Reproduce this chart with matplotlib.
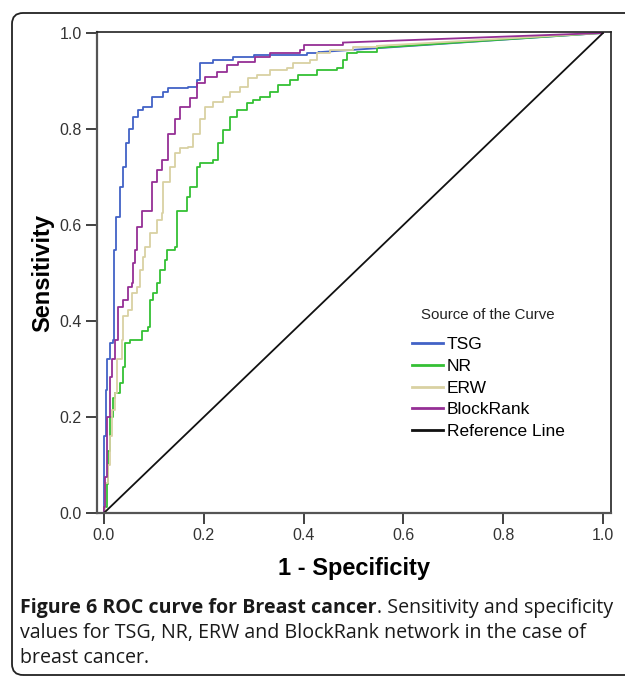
import matplotlib.pyplot as plt
from matplotlib.patches import FancyBboxPatch
from matplotlib.transforms import IdentityTransform

# ROC curve vertices (1 - specificity, sensitivity)
tsg_x = [0, 0.0, 0.004, 0.006, 0.012, 0.018, 0.02, 0.025, 0.032, 0.038, 0.044, 0.05, 0.058,
         0.068, 0.078, 0.096, 0.118, 0.128, 0.168, 0.186, 0.192, 0.218, 0.258, 0.30, 0.406,
         0.43, 1.0]
tsg_y = [0, 0.16, 0.256, 0.32, 0.354, 0.36, 0.548, 0.617, 0.68, 0.72, 0.77, 0.80, 0.825,
         0.84, 0.846, 0.867, 0.877, 0.885, 0.888, 0.902, 0.937, 0.944, 0.95, 0.954, 0.958,
         0.96, 1.0]

nr_x = [0, 0.0, 0.006, 0.008, 0.012, 0.018, 0.022, 0.032, 0.038, 0.042, 0.052, 0.076, 0.088,
        0.092, 0.098, 0.106, 0.112, 0.122, 0.126, 0.142, 0.146, 0.166, 0.172, 0.186, 0.192,
        0.218, 0.228, 0.238, 0.252, 0.266, 0.286, 0.298, 0.313, 0.333, 0.349, 0.373, 0.389,
        0.427, 0.467, 0.479, 0.487, 0.507, 0.547, 1.0]
nr_y = [0, 0.012, 0.06, 0.13, 0.2, 0.24, 0.25, 0.27, 0.305, 0.354, 0.36, 0.38, 0.388,
        0.444, 0.458, 0.48, 0.506, 0.527, 0.548, 0.554, 0.63, 0.658, 0.679, 0.72, 0.729,
        0.735, 0.77, 0.798, 0.825, 0.84, 0.854, 0.86, 0.867, 0.877, 0.892, 0.902, 0.912,
        0.923, 0.927, 0.944, 0.958, 0.96, 0.969, 1.0]

erw_x = [0, 0.002, 0.008, 0.012, 0.016, 0.022, 0.026, 0.036, 0.038, 0.048, 0.056, 0.066,
         0.072, 0.078, 0.082, 0.092, 0.106, 0.116, 0.118, 0.132, 0.142, 0.152, 0.168, 0.178,
         0.192, 0.202, 0.218, 0.238, 0.252, 0.272, 0.289, 0.306, 0.333, 0.367, 0.379, 0.413,
         0.427, 0.453, 0.499, 0.547, 1.0]
erw_y = [0, 0.0625, 0.10, 0.16, 0.215, 0.25, 0.32, 0.36, 0.41, 0.423, 0.458, 0.47,
         0.506, 0.533, 0.554, 0.583, 0.61, 0.625, 0.69, 0.72, 0.75, 0.76, 0.763, 0.79,
         0.82, 0.846, 0.856, 0.867, 0.877, 0.888, 0.906, 0.912, 0.923, 0.927, 0.937, 0.944,
         0.958, 0.965, 0.971, 0.973, 1.0]

br_x = [0, 0.0, 0.002, 0.006, 0.012, 0.016, 0.022, 0.028, 0.038, 0.048, 0.056, 0.058, 0.062,
        0.066, 0.076, 0.096, 0.106, 0.116, 0.128, 0.142, 0.152, 0.172, 0.186, 0.202, 0.226,
        0.246, 0.268, 0.302, 0.333, 0.393, 0.40, 0.479, 1.0]
br_y = [0, 0.012, 0.075, 0.2, 0.283, 0.32, 0.36, 0.43, 0.444, 0.47, 0.48, 0.52, 0.548,
        0.596, 0.63, 0.69, 0.715, 0.735, 0.79, 0.82, 0.846, 0.865, 0.896, 0.908, 0.919,
        0.933, 0.94, 0.95, 0.958, 0.965, 0.975, 0.98, 1.0]

ref_x = [0, 1]
ref_y = [0, 1]

names = ['TSG', 'NR', 'ERW', 'BlockRank']
colors = ['#4262c6', '#34c034', '#d9d1a2', '#952f95']
ticks = [0.0, 0.2, 0.4, 0.6, 0.8, 1.0]
tick_labels = ['0.0', '0.2', '0.4', '0.6', '0.8', '1.0']

caption_bold = 'Figure 6 ROC curve for Breast cancer'
caption_rest = '. Sensitivity and specificity'
caption_lines = ['values for TSG, NR, ERW and BlockRank network in the case of',
                 'breast cancer.']

W, H = 625, 677
fig = plt.figure(figsize=(W / 100, H / 100), dpi=100)

# outer figure frame with rounded corners (open to the right)
frame = FancyBboxPatch((12, 2), 700, H - 15, boxstyle='round,pad=0,rounding_size=11',
                       transform=IdentityTransform(), fill=False, lw=1.3, ec='#222222')
fig.patches.append(frame)

ax = fig.add_axes([97 / W, 1 - 513 / H, (611 - 97) / W, (513 - 32) / H])

series = [(tsg_x, tsg_y), (nr_x, nr_y), (erw_x, erw_y), (br_x, br_y)]
for (xs, ys), name, c in zip(series, names, colors):
    ax.plot(xs[:-1], ys[:-1], color=c, lw=1.3, drawstyle='steps-post', label=name)
    ax.plot(xs[-2:], ys[-2:], color=c, lw=1.3)
ax.plot(ref_x, ref_y, color='#111111', lw=1.3, label='Reference Line')

ax.set_xlim(-0.014, 1.016)
ax.set_ylim(0, 1.002)
ax.set_xticks(ticks)
ax.set_xticklabels(tick_labels)
ax.set_yticks(ticks)
ax.set_yticklabels(tick_labels)
ax.tick_params(direction='out', length=8, width=1.3, color='#333333', labelsize=11.5,
               labelcolor='#333333', pad=3)
for t in ax.get_xticklabels() + ax.get_yticklabels():
    t.set_family('Liberation Sans')
for s in ['left', 'bottom']:
    ax.spines[s].set_color('#555555')
    ax.spines[s].set_linewidth(1.6)
for s in ['top', 'right']:
    ax.spines[s].set_color('#222222')
    ax.spines[s].set_linewidth(1.2)

ax.set_xlabel('1 - Specificity', family='Liberation Sans', fontsize=17, fontweight='bold',
              labelpad=10)
ax.set_ylabel('Sensitivity', family='Liberation Sans', fontsize=17, fontweight='bold',
              labelpad=4)

# legend title placed separately so the gap above the entries matches
fig.text(421 / W, 1 - 315 / H, 'Source of the Curve', family='Liberation Sans',
         fontsize=10.8, va='center', color='#222222')
leg = ax.legend(loc='upper left', bbox_to_anchor=(412 / W, 1 - 337 / H),
                bbox_transform=fig.transFigure, frameon=False, borderpad=0,
                prop={'family': 'Liberation Sans', 'size': 12.5}, handlelength=1.78,
                handletextpad=0.23, labelspacing=0.38, borderaxespad=0)
for h in leg.get_lines():
    h.set_linewidth(2)

# caption: bold lead-in followed by regular text on the same line
cap_font = 'Open Sans'
cap_size = 14.1
t1 = fig.text(20 / W, 1 - 608 / H, caption_bold, family=cap_font, fontsize=cap_size,
              fontweight='bold', va='center', color='#1a1a1a')
fig.canvas.draw()
bb = t1.get_window_extent()
fig.text(bb.x1 / W, 1 - 608 / H, caption_rest, family=cap_font, fontsize=cap_size,
         va='center', color='#1a1a1a')
for i, line in enumerate(caption_lines):
    fig.text(20 / W, 1 - (633 + 25 * i) / H, line, family=cap_font, fontsize=cap_size,
             va='center', color='#1a1a1a')

fig.savefig('out.png', dpi=100)
